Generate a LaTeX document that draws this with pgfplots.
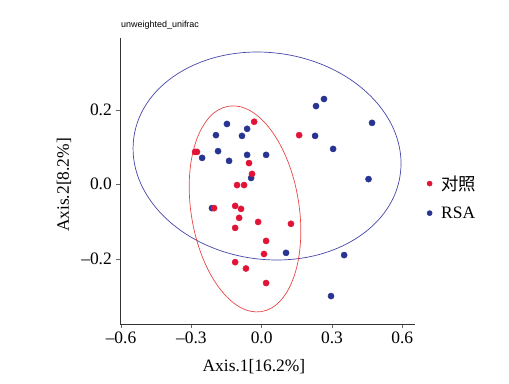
\documentclass[border=0pt]{standalone}
\usepackage{pgfplots}
\pgfplotsset{compat=1.18}
\usepackage{fontspec}
\setmainfont{Liberation Serif}
\newfontfamily\cjk{Noto Sans CJK SC}
\newfontfamily\titlefont{Liberation Sans}
\definecolor{cred}{RGB}{225,20,55}
\definecolor{cblue}{RGB}{40,52,145}
\definecolor{ered}{RGB}{232,70,70}
\definecolor{eblue}{RGB}{70,70,170}
\begin{document}
\begin{tikzpicture}
\path[use as bounding box] (0,0) rectangle (509bp,384bp);
\begin{axis}[
  at={(120bp,60bp)}, anchor=south west,
  scale only axis, width=295bp, height=286bp,
  xmin=-0.6044, xmax=0.6543, ymin=-0.375, ymax=0.3928,
  axis lines=left, axis line style={-, draw=black!80, line width=0.6bp},
  tick align=outside, major tick length=4bp,
  tick style={draw=black!60, line width=0.6bp},
  xtick={-0.6,-0.3,0,0.3,0.6}, xticklabels={–0.6,–0.3,0.0,0.3,0.6},
  ytick={-0.2,0,0.2}, yticklabels={–0.2,0.0,0.2},
  ticklabel style={font=\fontsize{17.5}{20}\selectfont, inner sep=4bp},
  xlabel={Axis.1[16.2\%]},
  xlabel style={at={(axis description cs:0.454,-0.1678)}, anchor=base, font=\fontsize{17.5}{20}\selectfont},
  ylabel={Axis.2[8.2\%]},
  ylabel style={at={(axis description cs:-0.1729,0.486)}, anchor=base, font=\fontsize{17.5}{20}\selectfont},
  title={unweighted\_unifrac},
  title style={at={(axis description cs:0,1)}, anchor=base west, yshift=5bp, xshift=1bp, inner sep=0pt, font=\titlefont\fontsize{9}{10}\selectfont},
  legend style={at={(axis description cs:1.03,0.442)}, anchor=west, draw=none, fill=none,
    font=\fontsize{17.5}{20}\selectfont, row sep=11bp,
    /tikz/every odd column/.append style={column sep=7bp}},
  legend cell align=left,
  legend image code/.code={\draw[#1] plot coordinates {(0bp,0bp)};},
  clip=false,
]
\addlegendimage{only marks, mark=*, mark size=2.6bp, mark options={fill=cred, draw=cred}}
\addlegendentry{{\cjk 对照}}
\addlegendimage{only marks, mark=*, mark size=2.6bp, mark options={fill=cblue, draw=cblue}}
\addlegendentry{RSA}

\draw[eblue, line width=0.7bp] (axis cs:0.023,0.076) ellipse [x radius=134.5bp, y radius=103.3bp, rotate=-7.9];
\draw[ered, line width=0.7bp] (axis cs:-0.071,-0.066) ellipse [x radius=54bp, y radius=104bp, rotate=9.1];

\addplot[forget plot, only marks, mark=*, mark size=3.1bp, mark options={fill=cblue, draw=cblue}] coordinates {
(-0.148,0.162) (-0.062,0.149) (-0.195,0.132) (-0.084,0.130)
(0.266,0.229) (0.232,0.210) (0.471,0.165) (0.228,0.130)
(0.305,0.095) (0.456,0.014) (-0.186,0.089) (-0.254,0.071)
(-0.139,0.063) (-0.062,0.079) (0.019,0.079) (-0.045,0.017)
(-0.212,-0.064) (0.104,-0.184) (0.352,-0.190) (0.296,-0.300)
};
\addplot[forget plot, only marks, mark=*, mark size=3.1bp, mark options={fill=cred, draw=cred}] coordinates {
(-0.284,0.087) (-0.276,0.087) (-0.032,0.168) (0.160,0.132)
(-0.054,0.057) (-0.041,0.028) (-0.105,-0.002) (-0.075,-0.002)
(-0.203,-0.064) (-0.113,-0.058) (-0.088,-0.066) (-0.096,-0.090)
(-0.015,-0.101) (0.125,-0.106) (-0.113,-0.117) (0.019,-0.152)
(0.010,-0.187) (-0.113,-0.209) (-0.067,-0.226) (0.019,-0.265)
};
\end{axis}
\end{tikzpicture}
\end{document}
